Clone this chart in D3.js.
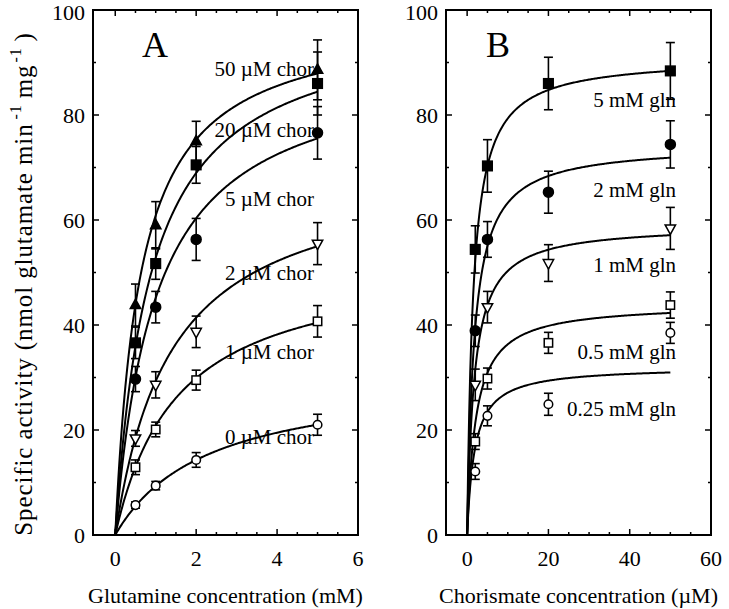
<!DOCTYPE html>
<html><head><meta charset="utf-8">
<script src="https://cdn.jsdelivr.net/npm/d3@7"></script>
<style>body{margin:0;background:#fff}svg text{font-family:"Liberation Serif","Times New Roman",serif;fill:#000}</style>
</head><body><svg id="c" width="729" height="609"></svg>
<script>
// ---- Panel A data: activity vs glutamine at fixed chorismate ----
const glnConc = [0.5, 1, 2, 5];
const chorLabels = ["0 µM chor","1 µM chor","2 µM chor","5 µM chor","20 µM chor","50 µM chor"];
const actA_0  = [5.7, 9.4, 14.3, 21.0];   const errA_0  = [0.6, 0.8, 1.4, 2.0];
const actA_1  = [12.9, 20.1, 29.5, 40.7]; const errA_1  = [1.4, 1.4, 1.9, 3.0];
const actA_2  = [18.4, 28.6, 38.7, 55.5]; const errA_2  = [1.5, 2.5, 3.0, 4.0];
const actA_5  = [29.7, 43.4, 56.3, 76.6]; const errA_5  = [2.4, 3.0, 4.0, 5.0];
const actA_20 = [36.6, 51.7, 70.5, 86.0]; const errA_20 = [3.0, 3.0, 3.5, 6.0];
const actA_50 = [43.8, 59.0, 75.0, 88.6]; const errA_50 = [4.0, 4.5, 3.8, 5.7];
const fitA_vmax = [30.6, 52.9, 70.4, 90.8, 99.3, 98.9];
const fitA_km   = [2.28, 1.54, 1.40, 1.01, 0.88, 0.625];
const markersA = ["circleOpen","squareOpen","triDownOpen","circleFilled","squareFilled","triUpFilled"];
const labelBaseA = [444, 359, 280, 206, 137, 76];

// ---- Panel B data: activity vs chorismate at fixed glutamine ----
const chorConc = [2, 5, 20, 50];
const glnLabels = ["0.25 mM gln","0.5 mM gln","1 mM gln","2 mM gln","5 mM gln"];
const actB_025 = [12.1, 22.7, 24.9, 38.5]; const errB_025 = [1.5, 1.9, 2.1, 2.0];
const actB_05  = [17.8, 29.8, 36.6, 43.8]; const errB_05  = [1.5, 2.0, 2.0, 2.5];
const actB_1   = [28.6, 43.4, 51.8, 58.4]; const errB_1   = [3.0, 3.0, 3.5, 4.0];
const actB_2   = [38.9, 56.3, 65.3, 74.4]; const errB_2   = [3.0, 3.4, 4.0, 4.5];
const actB_5   = [54.4, 70.3, 86.0, 88.4]; const errB_5   = [4.5, 5.0, 5.0, 5.4];
const fitB_vmax = [32.1, 44.1, 59.1, 74.4, 91.0];
const fitB_km   = [1.84, 2.14, 1.75, 1.76, 1.47];
const markersB = ["circleOpen","squareOpen","triDownOpen","circleFilled","squareFilled"];
const labelBaseB = [416, 359, 272, 197, 107];

const yTicks = [0, 20, 40, 60, 80, 100];
const xTicksA = [0, 2, 4, 6];
const xTicksB = [0, 20, 40, 60];

const svg = d3.select("#c");
const yScale = d3.scaleLinear().domain([0, 100]).range([535, 10]);

function drawPanel(cfg) {
  const x = d3.scaleLinear().domain(cfg.xDomain).range(cfg.xRange);
  const g = svg.append("g");
  const [x0, x1] = cfg.xRange, y0 = 535, y1 = 10;
  const yMinor = d3.range(0, 101, 10);
  yMinor.forEach(v => {
    const len = v % 20 === 0 ? 6 : 3;
    g.append("line").attr("x1", x0).attr("x2", x0 + len).attr("y1", yScale(v)).attr("y2", yScale(v)).attr("stroke", "#000").attr("stroke-width", 1.5);
    g.append("line").attr("x1", x1).attr("x2", x1 - len).attr("y1", yScale(v)).attr("y2", yScale(v)).attr("stroke", "#000").attr("stroke-width", 1.5);
  });
  cfg.xMinor.forEach(v => {
    const len = cfg.xMajor.includes(v) ? 6 : 3;
    g.append("line").attr("x1", x(v)).attr("x2", x(v)).attr("y1", y0).attr("y2", y0 - len).attr("stroke", "#000").attr("stroke-width", 1.5);
    g.append("line").attr("x1", x(v)).attr("x2", x(v)).attr("y1", y1).attr("y2", y1 + len).attr("stroke", "#000").attr("stroke-width", 1.5);
  });
  g.append("rect").attr("x", x0).attr("y", y1).attr("width", x1 - x0).attr("height", y0 - y1)
    .attr("fill", "none").attr("stroke", "#000").attr("stroke-width", 2);
  yTicks.forEach(v => g.append("text").attr("x", x0 - 8).attr("y", Math.max(yScale(v) + 7.5, 20))
    .attr("text-anchor", "end").attr("font-size", 22).text(v));
  cfg.xMajor.forEach(v => g.append("text").attr("x", x(v)).attr("y", 566)
    .attr("text-anchor", "middle").attr("font-size", 22).text(v));
  g.append("text").attr("x", (x0 + x1) / 2).attr("y", 603).attr("text-anchor", "middle")
    .attr("font-size", 22).text(cfg.xTitle);
  g.append("text").attr("x", cfg.letterX).attr("y", 57).attr("text-anchor", "middle")
    .attr("font-size", 36).text(cfg.letter);

  const line = d3.line().x(d => x(d[0])).y(d => yScale(d[1]));
  cfg.series.forEach((s, i) => {
    const pts = d3.range(0, 201).map(k => {
      const c = cfg.xMax * k / 200;
      return [c, cfg.vmax[i] * c / (cfg.km[i] + c)];
    });
    g.append("path").attr("d", line(pts)).attr("fill", "none").attr("stroke", "#000").attr("stroke-width", 2);
  });
  cfg.series.forEach((s, i) => {
    s.vals.forEach((v, j) => {
      const cx = x(cfg.xs[j]), e = s.errs[j];
      const yt = yScale(v + e), yb = yScale(v - e);
      g.append("line").attr("x1", cx).attr("x2", cx).attr("y1", yt).attr("y2", yb).attr("stroke", "#000").attr("stroke-width", 1.6);
      [yt, yb].forEach(yy => g.append("line").attr("x1", cx - 4.5).attr("x2", cx + 4.5).attr("y1", yy).attr("y2", yy).attr("stroke", "#000").attr("stroke-width", 1.6));
    });
  });
  cfg.series.forEach((s, i) => {
    s.vals.forEach((v, j) => drawMarker(g, cfg.markers[i], x(cfg.xs[j]), yScale(v)));
  });
  cfg.series.forEach((s, i) => g.append("text").attr("x", cfg.labelRight).attr("y", cfg.labelBase[i])
    .attr("text-anchor", "end").attr("font-size", 21).text(cfg.labels[i]));
}

function drawMarker(g, type, cx, cy) {
  const filled = type.endsWith("Filled");
  const fill = filled ? "#000" : "#fff";
  const sw = 1.5;
  if (type.startsWith("circle")) {
    g.append("circle").attr("cx", cx).attr("cy", cy).attr("r", filled ? 5 : 4.3).attr("fill", fill).attr("stroke", "#000").attr("stroke-width", sw);
  } else if (type.startsWith("square")) {
    const h = filled ? 4.8 : 4.2;
    g.append("rect").attr("x", cx - h).attr("y", cy - h).attr("width", 2 * h).attr("height", 2 * h).attr("fill", fill).attr("stroke", "#000").attr("stroke-width", sw);
  } else if (type.startsWith("triUp")) {
    const p = [[cx, cy - 6], [cx + 5.2, cy + 3.5], [cx - 5.2, cy + 3.5]];
    g.append("polygon").attr("points", p.map(q => q.join(",")).join(" ")).attr("fill", fill).attr("stroke", "#000").attr("stroke-width", sw);
  } else {
    const p = [[cx, cy + 6], [cx + 5.2, cy - 3.5], [cx - 5.2, cy - 3.5]];
    g.append("polygon").attr("points", p.map(q => q.join(",")).join(" ")).attr("fill", fill).attr("stroke", "#000").attr("stroke-width", sw);
  }
}

drawPanel({
  xDomain: [-0.55, 6], xRange: [93, 358], xMax: 5, xs: glnConc,
  xMinor: d3.range(0, 6.01, 0.5), xMajor: xTicksA,
  xTitle: "Glutamine concentration (mM)", letter: "A", letterX: 155,
  series: [
    {vals: actA_0, errs: errA_0}, {vals: actA_1, errs: errA_1}, {vals: actA_2, errs: errA_2},
    {vals: actA_5, errs: errA_5}, {vals: actA_20, errs: errA_20}, {vals: actA_50, errs: errA_50}],
  vmax: fitA_vmax, km: fitA_km, markers: markersA, labels: chorLabels,
  labelBase: labelBaseA, labelRight: 314
});
drawPanel({
  xDomain: [-5.2, 60], xRange: [446, 711], xMax: 50, xs: chorConc,
  xMinor: d3.range(0, 60.1, 5), xMajor: xTicksB,
  xTitle: "Chorismate concentration (µM)", letter: "B", letterX: 498,
  series: [
    {vals: actB_025, errs: errB_025}, {vals: actB_05, errs: errB_05}, {vals: actB_1, errs: errB_1},
    {vals: actB_2, errs: errB_2}, {vals: actB_5, errs: errB_5}],
  vmax: fitB_vmax, km: fitB_km, markers: markersB, labels: glnLabels,
  labelBase: labelBaseB, labelRight: 676
});

const yt = svg.append("text").attr("transform", "translate(32,284) rotate(-90)")
  .attr("text-anchor", "middle").attr("font-size", 25).attr("letter-spacing", 0.9);
yt.append("tspan").text("Specific activity (nmol glutamate min");
yt.append("tspan").attr("font-size", 16).attr("dy", -11).attr("dx", 4).text("-1");
yt.append("tspan").attr("dy", 11).attr("dx", 6).text("mg");
yt.append("tspan").attr("font-size", 16).attr("dy", -11).attr("dx", 2).text("-1");
yt.append("tspan").attr("dy", 11).attr("dx", 6).text(")");
</script></body></html>
